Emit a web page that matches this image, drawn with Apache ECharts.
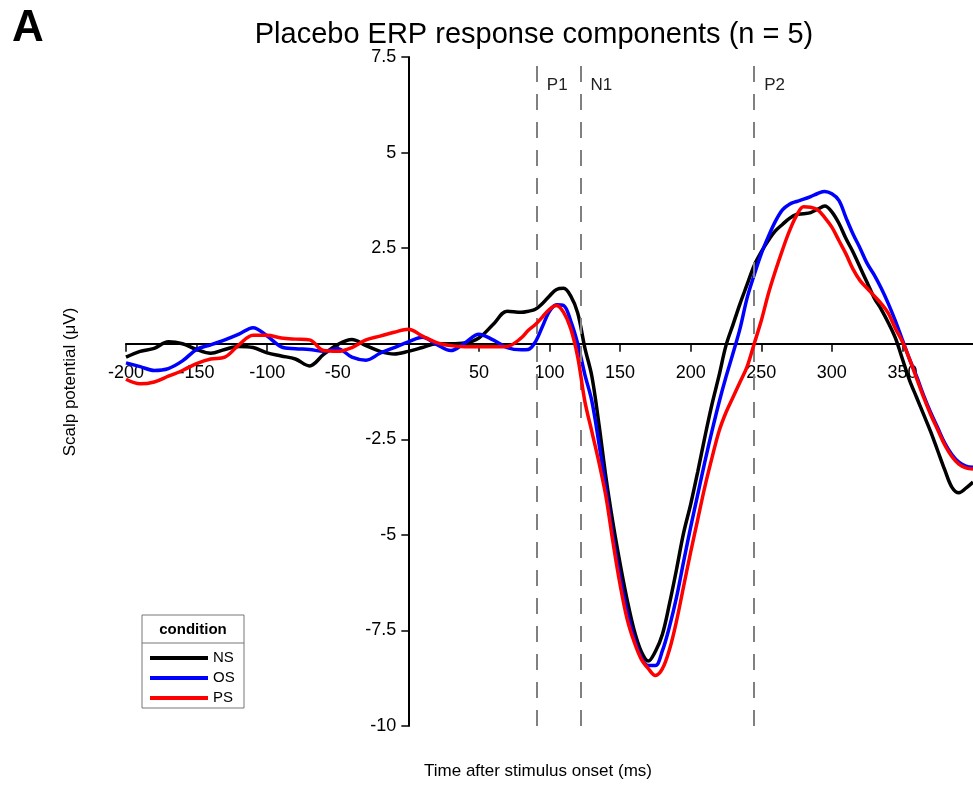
<!DOCTYPE html>
<html>
<head>
<meta charset="utf-8">
<script src="https://cdn.jsdelivr.net/npm/echarts@6/dist/echarts.min.js"></script>
<style>
  html, body { margin: 0; padding: 0; background: #fff; }
  #chart { width: 973px; height: 786px; }
</style>
</head>
<body>
<div id="chart"></div>
<script>
// ---- data ----
const panelLabel = 'A';
const titleText = 'Placebo ERP response components (n = 5)';
const xAxisTitle = 'Time after stimulus onset (ms)';
const yAxisTitle = 'Scalp potential (μV)';
const legendTitle = 'condition';
const conditions = ['NS', 'OS', 'PS'];
const componentNames = ['P1', 'N1', 'P2'];
const componentTimes = [91, 122, 245];

const times = [-200, -190, -180, -170, -160, -150, -140, -130, -120, -110, -100, -90, -80, -70, -60, -50, -40, -30, -20, -10,
  0, 10, 20, 30, 40, 50, 60, 70, 80,
  85, 90, 95, 100, 105, 110, 115, 120, 125, 130, 135, 140, 145, 150, 155, 160, 165, 170, 175, 180,
  185, 190, 195, 200, 205, 210, 215, 220, 225, 230, 235, 240, 245, 250, 255, 260, 265, 270, 275, 280,
  285, 290, 295, 300, 305, 310, 315, 320, 325, 330, 335, 340, 345, 350, 355, 360, 365, 370, 375, 380,
  385, 390, 395, 400];

const ns = [-0.35, -0.2, -0.12, 0.05, 0.0, -0.15, -0.25, -0.15, -0.07, -0.1, -0.24, -0.32, -0.4, -0.58, -0.28, -0.02, 0.11, -0.05, -0.2, -0.27,
  -0.2, -0.1, 0, 0, 0.02, 0.15, 0.5, 0.85, 0.82,
  0.85, 0.9, 1.05, 1.25, 1.42, 1.45, 1.25, 0.8, -0.1, -0.85, -2.1, -3.5, -4.7, -5.75, -6.7, -7.5, -8.05, -8.3, -8.05, -7.6,
  -6.8, -5.9, -4.95, -4.2, -3.35, -2.45, -1.6, -0.85, -0.05, 0.5, 1.05, 1.55, 2.05, 2.4, 2.7, 2.95, 3.12, 3.28, 3.38, 3.4,
  3.43, 3.52, 3.6, 3.45, 3.15, 2.75, 2.4, 2.0, 1.6, 1.2, 0.9, 0.55, 0.15, -0.4, -0.95, -1.4, -1.85, -2.3, -2.8, -3.3,
  -3.75, -3.9, -3.78, -3.62];

const os = [-0.5, -0.6, -0.7, -0.65, -0.45, -0.15, -0.03, 0.1, 0.25, 0.42, 0.2, -0.08, -0.13, -0.15, -0.2, -0.13, -0.35, -0.43, -0.25, -0.1,
  0.05, 0.17, -0.02, -0.18, 0.02, 0.25, 0.1, -0.1, -0.16,
  -0.15, 0.05, 0.45, 0.85, 1.02, 1.0, 0.6, 0.0, -0.8, -1.5, -2.6, -3.8, -5.05, -6.1, -7.0, -7.7, -8.2, -8.42, -8.42, -8.03,
  -7.4, -6.63, -5.7, -4.8, -3.95, -3.1, -2.3, -1.55, -0.87, -0.25, 0.4, 1.2, 1.8, 2.35, 2.8, 3.2, 3.5, 3.65, 3.72, 3.78,
  3.85, 3.93, 3.98, 3.92, 3.75, 3.3, 2.87, 2.5, 2.1, 1.8, 1.45, 1.05, 0.6, 0.1, -0.4, -0.85, -1.35, -1.8, -2.2, -2.6,
  -2.9, -3.1, -3.2, -3.23];

const ps = [-0.93, -1.05, -1.0, -0.85, -0.7, -0.52, -0.4, -0.35, -0.03, 0.22, 0.22, 0.15, 0.12, 0.1, -0.18, -0.2, -0.1, 0.1, 0.2, 0.3,
  0.38, 0.2, 0.03, -0.05, -0.08, -0.08, -0.08, -0.07, 0.15,
  0.35, 0.5, 0.7, 0.9, 1.0, 0.82, 0.4, -0.35, -1.5, -2.3, -3.1, -4.0, -5.2, -6.3, -7.2, -7.8, -8.25, -8.5, -8.68, -8.5,
  -8.0, -7.25, -6.35, -5.45, -4.6, -3.75, -3.0, -2.3, -1.8, -1.4, -1.0, -0.6, 0.0, 0.6, 1.3, 1.9, 2.45, 2.95, 3.35, 3.58,
  3.57, 3.5, 3.3, 3.05, 2.7, 2.35, 1.95, 1.65, 1.45, 1.25, 1.05, 0.8, 0.4, 0.05, -0.4, -0.9, -1.4, -1.85, -2.25, -2.65,
  -2.95, -3.15, -3.25, -3.28];

const xRange = [-200, 400];
const xStep = 50;
const yRange = [-10, 7.5];
const yStep = 2.5;

// ---- chart ----
const FONT = '"Liberation Sans", Arial, Helvetica, sans-serif';
const colors = ['#000000', '#0000ff', '#ff0000'];
const seriesValues = [ns, os, ps];

const chart = echarts.init(document.getElementById('chart'), null, { renderer: 'canvas' });

const series = conditions.map((name, i) => ({
  name: name,
  type: 'line',
  data: times.map((t, k) => [t, seriesValues[i][k]]),
  showSymbol: false,
  smooth: 0.35,
  lineStyle: { color: colors[i], width: 3.5 },
  itemStyle: { color: colors[i] },
  z: 3 + i,
  silent: true
}));

series[0].markLine = {
  silent: true,
  symbol: ['none', 'none'],
  label: { show: false },
  lineStyle: { color: '#808080', width: 2, type: [16, 12] },
  data: componentTimes.map(t => ({ xAxis: t }))
};

const hideZero = v => (v === 0 ? '' : String(v));

const option = {
  animation: false,
  backgroundColor: '#ffffff',
  textStyle: { fontFamily: FONT },
  title: {
    text: titleText,
    left: 529,
    top: 15,
    textAlign: 'center',
    textStyle: { fontFamily: FONT, fontSize: 29, fontWeight: 'normal', color: '#000' }
  },
  grid: { left: 126, right: 0, top: 57, bottom: 60, outerBoundsMode: 'none' },
  legend: {
    data: conditions,
    orient: 'vertical',
    left: 150,
    top: 648,
    padding: 0,
    itemGap: 0,
    itemWidth: 58,
    itemHeight: 4,
    icon: 'rect',
    selectedMode: false,
    textStyle: { fontFamily: FONT, fontSize: 15, lineHeight: 20, color: '#000' }
  },
  xAxis: {
    type: 'value',
    min: xRange[0],
    max: xRange[1],
    interval: xStep,
    axisLine: { show: true, onZero: false, lineStyle: { color: '#000', width: 2 } },
    axisTick: { show: true, length: 8, lineStyle: { color: '#000', width: 1.5 } },
    axisLabel: { show: true, margin: 20, fontSize: 18, color: '#000', fontFamily: FONT, showMaxLabel: false, formatter: hideZero },
    splitLine: { show: false }
  },
  yAxis: {
    type: 'value',
    min: yRange[0],
    max: yRange[1],
    interval: yStep,
    axisLine: { show: true, onZero: false, lineStyle: { color: '#000', width: 2 } },
    axisTick: { show: true, length: 7, lineStyle: { color: '#000', width: 1.5 } },
    axisLabel: { show: true, margin: 12, fontSize: 18, color: '#000', fontFamily: FONT, formatter: hideZero },
    splitLine: { show: false }
  },
  series: series
};

chart.setOption(option);

// ---- move axes so they cross at the origin, using the library's scales ----
const origin = chart.convertToPixel({ gridIndex: 0 }, [0, 0]);
const gridLeftPx = chart.convertToPixel({ gridIndex: 0 }, [xRange[0], 0])[0];
const gridBottomPx = chart.convertToPixel({ gridIndex: 0 }, [0, yRange[0]])[1];
const topPx = chart.convertToPixel({ gridIndex: 0 }, [0, yRange[1]])[1];

const compLabels = componentNames.map((name, i) => {
  const px = chart.convertToPixel({ gridIndex: 0 }, [componentTimes[i], yRange[1]]);
  return {
    type: 'text',
    left: px[0] + 10,
    top: topPx + 20,
    silent: true,
    style: { text: name, fontFamily: FONT, fontSize: 17, fill: '#222' }
  };
});

chart.setOption({
  xAxis: { offset: -(gridBottomPx - origin[1]) },
  yAxis: { offset: -(origin[0] - gridLeftPx) },
  graphic: [
    { type: 'text', left: 12, top: 7, style: { text: panelLabel, fontFamily: FONT, fontSize: 44, fontWeight: 'bold', fill: '#000' } },
    { type: 'text', x: 538, y: 771, style: { text: xAxisTitle, fontFamily: FONT, fontSize: 17, fill: '#000', align: 'center', verticalAlign: 'middle' } },
    { type: 'text', x: 70, y: 382, rotation: Math.PI / 2, style: { text: yAxisTitle, fontFamily: FONT, fontSize: 17, fill: '#000', align: 'center', verticalAlign: 'middle' } },
    // legend frame
    { type: 'rect', shape: { x: 142, y: 615, width: 102, height: 93 }, style: { fill: 'none', stroke: '#777', lineWidth: 1 }, z: 10 },
    { type: 'line', shape: { x1: 142, y1: 643, x2: 244, y2: 643 }, style: { stroke: '#777', lineWidth: 1 }, z: 10 },
    { type: 'text', x: 193, y: 630, style: { text: legendTitle, fontFamily: FONT, fontSize: 15, fontWeight: 'bold', fill: '#000', align: 'center', verticalAlign: 'middle' }, z: 10 }
  ].concat(compLabels)
});
</script>
</body>
</html>
